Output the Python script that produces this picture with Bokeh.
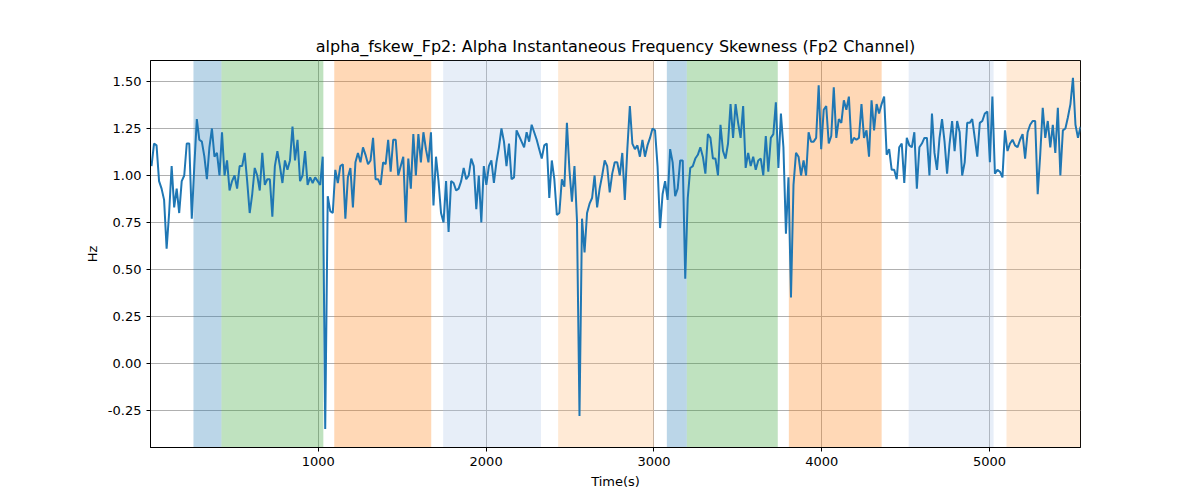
import numpy as np
from bokeh.plotting import figure
from bokeh.models import BoxAnnotation, FixedTicker, Range1d, CustomJSTickFormatter
from bokeh.embed import file_html
from bokeh.resources import INLINE

seg1 = [1.05,1.17,1.16,0.97,0.93,0.87,0.61,0.8,1.05,0.83,0.93,0.8,0.97,1.0,1.17,1.17,0.77,1.05,1.3,1.19,1.18,1.1,0.98,1.15,1.25,1.1,1.12,1.0,1.23,1.0,1.08,0.92,0.97,1.0,0.93,1.05,1.05,1.12,0.97,0.8,0.9,1.04,1.0,0.92,1.12,0.95,0.98,0.98,0.78,1.05,1.13,1.05,0.96,1.08,1.03,1.08,1.26,1.08,1.19,0.97,1.0,1.13,0.95,0.99,0.96,0.99,0.97,0.95,1.1,-0.35,0.89,0.81,0.8,1.03,0.96,1.05,1.06,0.77,0.99,1.04,0.83,1.07,1.12,1.07,1.15,1.11,1.06,1.08,1.2,0.98,0.98,0.95,1.07,1.06,1.19,1.02,1.19,1.19,1.0,1.05,1.1,0.75,1.09,0.93,1.22,1.0,1.22,1.07,1.23,1.14,1.07,1.23,0.84,1.1,0.97,0.8,0.75,0.97,0.7,0.97,0.96,0.92]
seg2 = [0.93,0.97,1.04,0.98,1.0,1.09,1.05,0.82,1.0,0.75,1.05,0.95,1.05,1.08,0.96,1.07,1.15,1.25,1.18,1.05,1.17,0.98,0.99,1.24,1.21,1.18,1.15,1.23,1.18,1.27,1.23,1.19,1.14,1.09,1.16,1.17,0.88,1.08,0.98,0.79,0.8,0.98,0.94,1.28,1.03,0.86,1.05,0.76,-0.28,0.77,0.59,0.8,0.85,0.88,1.0,0.83,0.93,1.0,1.08,1.05,0.91,1.01,1.07,1.07,1.0,1.12,0.87,1.14,1.37,1.17,1.14,1.16,1.1,1.19,1.1,1.16,1.2,1.25,1.24,1.05,0.72,0.9,0.97,0.87,1.14,1.07,0.89,0.93,1.08,1.08,0.45,0.88,1.04,1.05,1.09,1.11,1.15,1.1,1.01,1.22,1.2,1.09,1.09,1.0,1.27,1.13,1.09,1.17,1.38,1.2,1.38,1.28,1.2,1.37,1.04,1.12,1.05,1.1,1.03,1.08,1.09,1.0,1.21]
seg3 = [1.02,1.2,1.22,1.39,1.04,1.33,1.15,0.69,0.99,0.35,0.95,1.12,1.1,1.0,1.08,1.0,1.23,1.18,1.18,1.2,1.48,1.14,1.35,1.37,1.17,1.21,1.47,1.2,1.3,1.28,1.4,1.35,1.42,1.17,1.2,1.19,1.2,1.38,1.2,1.24,1.1,1.4,1.24,1.38,1.33,1.38,1.42,1.11,1.14,1.03,1.03,0.98,1.15,1.17,0.96,1.2,1.16,1.15,1.23,0.93,1.15,1.17,1.2,1.2,1.0,1.33,1.12,1.03,1.2,1.3,1.18,1.01,1.17,1.29,1.13,1.29,1.23,1.0,1.07,1.28,1.28,1.3,1.2,1.1,1.28,1.29,1.33,1.34,1.07,1.42,1.01,1.03,1.02,0.99,1.24,1.13,1.17,1.19,1.16,1.15,1.19,1.22,1.09,1.23,1.27,1.29,1.29,0.9,1.11,1.36,1.2,1.29,1.15,1.27,1.12,1.36,1.0,1.24,1.25,1.31,1.38,1.52,1.27,1.2,1.26]
values = seg1 + seg2 + seg3
t_start, t_end = 6, 5542
times = np.linspace(t_start, t_end, len(values))

span_left = [256, 423, 1095, 1744, 2429, 3077, 3196, 3804, 4518, 5101]
span_right = [423, 1030, 1673, 2327, 3000, 3196, 3738, 4357, 5024, 5542]
span_color = ["#1f77b4", "#2ca02c", "#ff7f0e", "#aec7e8", "#ffbb78", "#1f77b4", "#2ca02c", "#ff7f0e", "#aec7e8", "#ffbb78"]
span_alpha = [0.3] * 10

p = figure(width=1184, height=491, output_backend="svg", toolbar_location=None,
           x_range=Range1d(0, 5542), y_range=Range1d(-0.448, 1.612),
           title="alpha_fskew_Fp2: Alpha Instantaneous Frequency Skewness (Fp2 Channel)",
           x_axis_label="Time(s)", y_axis_label="Hz",
           min_border_left=150, min_border_right=104, min_border_top=60, min_border_bottom=38)
p.title.align = "center"
p.title.text_font = "DejaVu Sans"
p.title.text_font_size = "16px"
p.title.text_font_style = "normal"
p.title.text_color = "black"

for l, r, c, a in zip(span_left, span_right, span_color, span_alpha):
    p.add_layout(BoxAnnotation(left=l, right=r, fill_color=c, fill_alpha=a, line_alpha=0, level="underlay"))

p.line(times, values, line_color="#1f77b4", line_width=2)

p.xaxis.ticker = FixedTicker(ticks=[1000, 2000, 3000, 4000, 5000])
p.yaxis.ticker = FixedTicker(ticks=[-0.25, 0, 0.25, 0.5, 0.75, 1.0, 1.25, 1.5])
p.yaxis.formatter = CustomJSTickFormatter(code="return tick.toFixed(2);")
for ax in [p.xaxis[0], p.yaxis[0]]:
    ax.major_label_text_font = "DejaVu Sans"
    ax.major_label_text_font_size = "13px"
    ax.major_label_text_color = "black"
    ax.axis_label_text_font = "DejaVu Sans"
    ax.axis_label_text_font_size = "13px"
    ax.axis_label_text_font_style = "normal"
    ax.axis_label_text_color = "black"
    ax.minor_tick_line_color = None
    ax.major_tick_out = 4
    ax.major_tick_in = 0
    ax.major_tick_line_color = "black"
    ax.axis_line_color = "black"
p.grid.grid_line_color = "#b0b0b0"
p.grid.grid_line_width = 1
p.outline_line_color = "black"
p.outline_line_alpha = 1

open("out.html", "w").write(file_html(p, INLINE))
